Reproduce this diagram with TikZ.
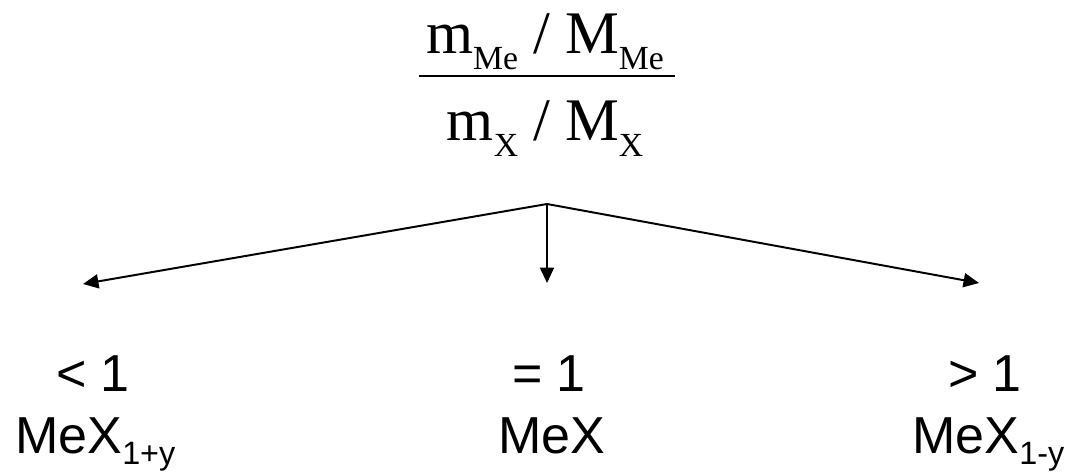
\documentclass[tikz,border=0pt]{standalone}
\usepackage{fontspec}
\setmainfont{Liberation Serif}
\setsansfont{Liberation Sans}
\usetikzlibrary{arrows.meta,positioning}
\newcommand{\serifsub}[1]{\raisebox{-0.25em}{\fontsize{24}{24}\selectfont #1}}
\newcommand{\sanssub}[1]{\raisebox{-0.22em}{\fontsize{23}{23}\selectfont #1}}

\begin{document}
\begin{tikzpicture}[x=0.025cm, y=-0.025cm,
  ratio/.style={font=\fontsize{43}{43}\selectfont, inner sep=0pt, anchor=base},
  caselabel/.style={font=\sffamily\fontsize{37}{37}\selectfont, inner sep=0pt, anchor=base},
  branch/.style={-{Triangle[length=11pt, width=10pt]}, line width=1.4pt}]
  \useasboundingbox (0,0) rectangle (1070,472);

  % Molar ratio
  \node[ratio] (num) at (545,54) {m\serifsub{Me} / M\serifsub{Me}};
  \node[ratio] (den) at (545,141) {m\serifsub{X} / M\serifsub{X}};
  \coordinate (barlevel) at (0,76);
  \draw[line width=2pt] ([xshift=-5pt]num.west |- barlevel) -- ([xshift=8pt]num.east |- barlevel);

  % Branches
  \coordinate (fork) at (547,204);
  \coordinate (lefttip) at (83,284);
  \coordinate (midtip) at (547,283);
  \coordinate (righttip) at (979,283);
  \draw[branch] (fork) -- (lefttip);
  \draw[branch] (fork) -- (midtip);
  \draw[branch] (fork) -- (righttip);

  % Cases
  \node[caselabel] (lessone) at (93,391) {< 1};
  \node[caselabel, anchor=base west] (lessform) at (15,453) {MeX\sanssub{1+y}};
  \node[caselabel] (equalone) at (549,391) {= 1};
  \node[caselabel] (equalform) at (552,453) {MeX};
  \node[caselabel] (greaterone) at (985,391) {> 1};
  \node[caselabel, anchor=base west] (greaterform) at (912,453) {MeX\sanssub{1-y}};
\end{tikzpicture}
\end{document}
